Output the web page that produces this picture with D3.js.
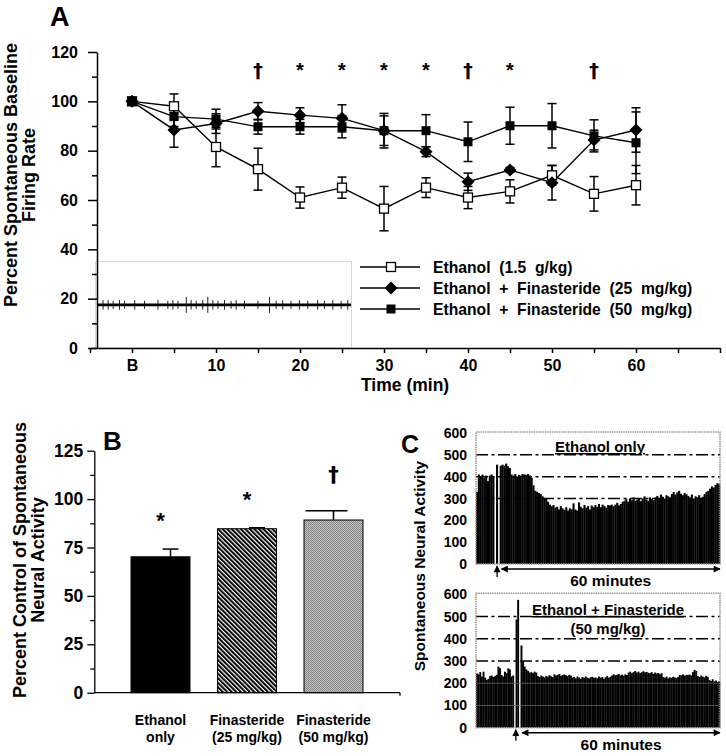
<!DOCTYPE html>
<html><head><meta charset="utf-8">
<script src="https://cdn.jsdelivr.net/npm/d3@7"></script>
<style>
body{margin:0;background:#fff}
text{font-family:"Liberation Sans",Arial,Helvetica,sans-serif;font-weight:bold;fill:#000}
text.dag{font-family:"DejaVu Sans","Liberation Sans",sans-serif}
</style></head><body>
<svg id="fig" width="726" height="756" xmlns="http://www.w3.org/2000/svg"></svg>
<script>
// ---------------- Panel A data ----------------
const timesA = [0,5,10,15,20,25,30,35,40,45,50,55,60];
const ethanol    = [100, 98, 81.5, 72.5, 61, 65, 56.5, 65, 61, 63.5, 70, 62.5, 66];
const ethanolErr = [0, 5, 8, 8.5, 4.3, 4.3, 9, 4, 4.5, 4.7, 4, 7, 8];
const fin25      = [100, 88.4, 91, 96, 94.4, 93.1, 88.1, 79.6, 67.4, 72.2, 67, 84.3, 88.4];
const fin25Err   = [0, 7, 4, 3.5, 3, 5.5, 7, 2, 3.5, 1, 7, 4, 9];
const fin50      = [100, 93.8, 92.8, 89.7, 89.7, 89.7, 88.1, 88.1, 83.6, 90.1, 90.1, 86, 83.2];
const fin50Err   = [0, 4, 4, 3, 3, 4.5, 6, 6.5, 8, 7.5, 9, 6.5, 12.5];
const seriesNamesA = ["Ethanol  (1.5  g/kg)", "Ethanol  +  Finasteride  (25  mg/kg)", "Ethanol  +  Finasteride  (50  mg/kg)"];
const sigTimesA = [15,20,25,30,35,40,45,55];
const sigSymA   = ["\u2020","*","*","*","*","\u2020","*","\u2020"];
const xTickValsA = [-5,0,5,10,15,20,25,30,35,40,45,50,55,60,65,70];
const xTickLabelsA = {0:"B",10:"10",20:"20",30:"30",40:"40",50:"50",60:"60"};
const yTickValsA = [0,10,20,30,40,50,60,70,80,90,100,110,120];
// inset spike trace (position along trace 0..1, relative amplitude)
const spikePos = [0.02,0.04,0.06,0.085,0.105,0.145,0.184,0.237,0.276,0.296,0.316,0.349,0.368,0.388,0.414,0.434,0.454,0.474,0.5,0.526,0.546,0.579,0.632,0.678,0.704,0.73,0.763,0.796,0.829,0.868,0.895,0.928,0.961,0.987];
const spikeAmp = [0.6,0.6,0.5,0.6,0.5,0.6,0.5,0.6,0.5,0.6,0.5,1,0.6,0.5,0.6,1,0.6,0.5,0.6,0.5,0.6,0.5,0.5,1,0.5,0.6,0.5,0.6,0.5,0.6,0.5,0.6,0.5,0.6];

// ---------------- Panel B data ----------------
const groupsB = [["Ethanol","only"],["Finasteride","(25 mg/kg)"],["Finasteride","(50 mg/kg)"]];
const valuesB = [70.2, 84.7, 89.2];
const errB    = [4, 0.5, 4.8];
const sigB    = ["*","*","\u2020"];
const yTickValsB = [0,12.5,25,37.5,50,62.5,75,87.5,100,112.5,125];

// ---------------- Panel C data ----------------
const binMin = 0.5;
const startTop = -7, endTop = 60, injTop = -1.2;
const histTop = [
330,410,400,410,395,405,380,405,410,400,
0,455,0,450,455,450,460,448,440,410,
405,412,400,408,405,412,410,408,412,405,
395,360,335,330,325,320,310,302,300,285,
272,265,270,258,262,250,265,255,248,260,
245,255,250,278,250,245,282,262,255,270,
258,265,250,268,260,270,262,275,260,272,
265,258,270,268,272,265,272,280,268,275,
285,290,298,285,300,292,305,290,295,302,
288,300,310,295,290,305,298,292,305,312,
300,318,308,300,315,310,305,320,330,318,
328,335,322,315,325,320,312,305,318,300,
310,305,315,302,308,320,330,335,345,355,
350,362,370,365];
const startBot = -14, endBot = 60, injBot = -1.9;
const histBot = [
244,240,250,230,252,225,215,220,232,235,
228,232,238,275,268,237,230,252,245,267,
262,230,235,0,487,575,0,370,300,275,
262,255,248,250,245,252,248,232,228,235,
230,226,233,229,236,231,228,240,235,238,
242,233,237,240,236,232,238,234,225,228,
222,230,226,220,228,224,230,225,222,227,
229,224,226,222,230,225,228,220,227,232,
225,229,235,240,236,238,242,235,239,234,
240,237,248,252,245,250,255,248,252,246,
250,254,249,251,247,245,250,242,248,244,
246,240,245,228,225,230,222,227,224,229,
226,223,228,237,235,240,234,238,236,239,
235,250,260,255,232,228,235,230,226,233,
229,215,210,218,208,212,205,210];
const refLevelsC = [300,400,500];
const yTickValsC = [0,100,200,300,400,500,600];

// =====================================================
const svg = d3.select("#fig");
svg.append("rect").attr("width",726).attr("height",756).attr("fill","#fff");
const defs = svg.append("defs");
const pat = defs.append("pattern").attr("id","stripes").attr("patternUnits","userSpaceOnUse")
  .attr("width",3.2).attr("height",10).attr("patternTransform","rotate(-45)");
pat.append("rect").attr("width",3.2).attr("height",10).attr("fill","#fff");
pat.append("rect").attr("width",2).attr("height",10).attr("fill","#000");
const pat2 = defs.append("pattern").attr("id","stipple").attr("patternUnits","userSpaceOnUse")
  .attr("width",2).attr("height",2);
pat2.append("rect").attr("width",2).attr("height",2).attr("fill","#c4c4c4");
pat2.append("rect").attr("width",1).attr("height",1).attr("fill","#808080");
pat2.append("rect").attr("x",1).attr("y",1).attr("width",1).attr("height",1).attr("fill","#8a8a8a");
defs.append("marker").attr("id","ah").attr("viewBox","0 0 10 10").attr("refX",9).attr("refY",5)
  .attr("markerWidth",9).attr("markerHeight",7).attr("orient","auto-start-reverse").attr("markerUnits","userSpaceOnUse")
  .append("path").attr("d","M0,0 L10,5 L0,10 Z").attr("fill","#000");

function label(g, x, y, str, size, anchor, rot) {
  const t = g.append("text").attr("x",x).attr("y",y).attr("font-size",size)
    .attr("text-anchor",anchor||"start").style("white-space","pre").text(str);
  if (str === "\u2020") t.attr("class","dag");
  if (rot) t.attr("transform",`rotate(${rot},${x},${y})`);
  return t;
}

// ================= PANEL A =================
const xA = d3.scaleLinear().domain([-5,70]).range([90,720]);
const yA = d3.scaleLinear().domain([0,120]).range([348,52]);
const gA = svg.append("g");
label(gA, 50, 26, "A", 27);

const insetX = d3.scaleLinear().domain([0,1]).range([98,351]);
const insetY = d3.scaleLinear().domain([-1,1]).range([yA(17.5)+8, yA(17.5)-8]);
gA.append("rect").attr("x",95.5).attr("y",yA(35)).attr("width",256).attr("height",yA(0)-yA(35))
  .attr("fill","none").attr("stroke","#aaa").attr("stroke-width",1).attr("stroke-dasharray","1,1");
gA.selectAll(".spk").data(spikePos).join("line")
  .attr("x1",d=>insetX(d)).attr("x2",d=>insetX(d))
  .attr("y1",(d,i)=>insetY(-spikeAmp[i])).attr("y2",(d,i)=>insetY(spikeAmp[i]))
  .attr("stroke","#222").attr("stroke-width",1);
gA.append("line").attr("x1",insetX(0)).attr("x2",insetX(1)).attr("y1",insetY(0)).attr("y2",insetY(0))
  .attr("stroke","#000").attr("stroke-width",2.8);

const axYA = gA.append("g").attr("transform","translate(97,0)")
  .call(d3.axisLeft(yA).tickValues(yTickValsA).tickSize(9).tickSizeOuter(0).tickPadding(10)
  .tickFormat(d=> d%20===0 ? d : ""));
axYA.selectAll(".tick line").attr("x2", d=> d%20===0 ? -9 : -5);
const axXA = gA.append("g").attr("transform","translate(0,348)")
  .call(d3.axisBottom(xA).tickValues(xTickValsA).tickSize(5).tickSizeOuter(0).tickPadding(7)
  .tickFormat(d=> xTickLabelsA[d] || ""));
[axYA, axXA].forEach(a=>{
  a.attr("font-family",null).attr("font-size",null);
  a.selectAll("path,line").attr("stroke","#000").attr("stroke-width",1.5);
  a.selectAll("text").attr("font-size",16).attr("fill","#000");
});
label(gA, 361, 391, "Time (min)", 17.5);
label(gA, 17, 175, "Percent Spontaneous Baseline", 18, "middle", -90);
label(gA, 35, 175, "Firing Rate", 18, "middle", -90);

const seriesA = [
  {vals: ethanol, err: ethanolErr, sym: "open"},
  {vals: fin25, err: fin25Err, sym: "diamond"},
  {vals: fin50, err: fin50Err, sym: "square"}
];
const lineGen = d3.line().x((d,i)=>xA(timesA[i])).y(d=>yA(d));
seriesA.forEach(s=>{
  gA.append("path").datum(s.vals).attr("d",lineGen).attr("fill","none").attr("stroke","#000").attr("stroke-width",1.4);
});
seriesA.forEach(s=>{
  const eb = gA.append("g").attr("stroke","#000").attr("stroke-width",1.5);
  s.vals.forEach((v,i)=>{
    if (!s.err[i]) return;
    const x = xA(timesA[i]);
    eb.append("line").attr("x1",x).attr("x2",x).attr("y1",yA(v-s.err[i])).attr("y2",yA(v+s.err[i]));
    [v-s.err[i], v+s.err[i]].forEach(c=> eb.append("line").attr("x1",x-4.5).attr("x2",x+4.5).attr("y1",yA(c)).attr("y2",yA(c)));
  });
});
function drawSym(g, kind, x, y) {
  if (kind==="open") g.append("rect").attr("x",x-4.5).attr("y",y-4.5).attr("width",9).attr("height",9)
      .attr("fill","#fff").attr("stroke","#000").attr("stroke-width",1.3);
  else if (kind==="square") g.append("rect").attr("x",x-4.5).attr("y",y-4.5).attr("width",9).attr("height",9).attr("fill","#000");
  else g.append("path").attr("d",`M${x},${y-6.5}L${x+6.5},${y}L${x},${y+6.5}L${x-6.5},${y}Z`).attr("fill","#000");
}
seriesA.forEach(s=>{
  const mg = gA.append("g");
  s.vals.forEach((v,i)=> drawSym(mg, s.sym, xA(timesA[i]), yA(v)));
});
sigTimesA.forEach((t,i)=>{
  label(gA, xA(t), yA(110), sigSymA[i], sigSymA[i]==="*" ? 20 : 19, "middle");
});
seriesA.forEach((s,i)=>{
  const yy = 267 + i*21;
  gA.append("line").attr("x1",360).attr("x2",420).attr("y1",yy).attr("y2",yy).attr("stroke","#000").attr("stroke-width",1.4);
  drawSym(gA, s.sym, 391, yy);
  label(gA, 433, yy+5.5, seriesNamesA[i], 15.7);
});

// ================= PANEL B =================
const gB = svg.append("g");
const yB = d3.scaleLinear().domain([0,125]).range([692.7,450.7]);
const xB = d3.scalePoint().domain(d3.range(groupsB.length)).range([160.5,333.5]);
const fillsB = ["#000","url(#stripes)","url(#stipple)"];
const errOffB = [10, 10, 0];
const capB = [[-8,8],[-8,8],[-28,14]];
label(gB, 103, 450, "B", 26);
valuesB.forEach((v,i)=>{
  const cx = xB(i);
  gB.append("rect").attr("x",cx-29.5).attr("y",yB(v)).attr("width",59).attr("height",yB(0)-yB(v))
    .attr("fill",fillsB[i]).attr("stroke","#000").attr("stroke-width",1);
  const ex = cx + errOffB[i];
  gB.append("line").attr("x1",ex).attr("x2",ex).attr("y1",yB(v)).attr("y2",yB(v+errB[i])).attr("stroke","#000").attr("stroke-width",1.5);
  gB.append("line").attr("x1",ex+capB[i][0]).attr("x2",ex+capB[i][1]).attr("y1",yB(v+errB[i])).attr("y2",yB(v+errB[i])).attr("stroke","#000").attr("stroke-width",1.5);
  const off = sigB[i]==="*" ? 21 : 29;
  label(gB, cx, yB(v+errB[i]) - off, sigB[i], sigB[i]==="*" ? 22 : 21, "middle");
  label(gB, cx, 725, groupsB[i][0], 14, "middle");
  label(gB, cx, 742, groupsB[i][1], 14, "middle");
});
const axYB = gB.append("g").attr("transform","translate(94.3,0)")
  .call(d3.axisLeft(yB).tickValues(yTickValsB).tickSize(7).tickSizeOuter(0).tickPadding(4)
  .tickFormat(d=> d%25===0 ? d : ""));
axYB.selectAll(".tick line").attr("x2", d=> d%25===0 ? -7 : -4);
axYB.attr("font-family",null).attr("font-size",null);
axYB.selectAll("path,line").attr("stroke","#000").attr("stroke-width",1.3);
axYB.selectAll("text").attr("font-size",17.5).attr("fill","#000");
gB.append("line").attr("x1",94.3).attr("x2",400).attr("y1",yB(0)).attr("y2",yB(0)).attr("stroke","#000").attr("stroke-width",1.3);
gB.append("line").attr("x1",400).attr("x2",400).attr("y1",yB(0)).attr("y2",yB(0)+3).attr("stroke","#000").attr("stroke-width",1.3);
label(gB, 25.5, 560, "Percent Control of Spontaneous", 18, "middle", -90);
label(gB, 44, 560, "Neural Activity", 18, "middle", -90);

// ================= PANEL C =================
const gC = svg.append("g");
label(gC, 401, 453, "C", 25);
label(gC, 424.5, 566, "Spontaneous Neural Activity", 15.5, "middle", -90);

function histPanel(vals, start, end, inj, yTop, yBot, title, gridLines, textPos) {
  const x = d3.scaleLinear().domain([start,end]).range([476,720]);
  const y = d3.scaleLinear().domain([0,600]).range([yBot,yTop]);
  const g = gC.append("g");
  refLevelsC.forEach(r=>{
    g.append("line").attr("x1",476).attr("x2",720).attr("y1",y(r)).attr("y2",y(r))
      .attr("stroke","#000").attr("stroke-width",1.5).attr("stroke-dasharray","12,3.5,3,3.5");
  });
  g.selectAll(".bin").data(vals).join("rect")
    .attr("x",(d,i)=>x(start+i*binMin)).attr("width",(x(start+binMin)-x(start))+0.25)
    .attr("y",d=>y(d)).attr("height",d=>y(0)-y(d)).attr("fill","#000");
  gridLines.forEach(r=>{
    g.append("line").attr("x1",477).attr("x2",719).attr("y1",y(r)).attr("y2",y(r)).attr("stroke","#666").attr("stroke-width",0.8);
  });
  g.append("rect").attr("x",476).attr("y",y(600)-1).attr("width",244).attr("height",y(0)-y(600)+1)
    .attr("fill","none").attr("stroke","#999").attr("stroke-width",1.6).attr("stroke-dasharray","1.5,0.8");
  yTickValsC.forEach(v=> label(g, 467, y(v)+5, String(v), 14, "end"));
  title.forEach((t,i)=>{
    const tt = label(g, textPos[0], textPos[1]+i*19, t, 15, "middle");
    if (i===0) tt.style("text-decoration","underline");
  });
  const ay = y(0)+5;
  g.append("line").attr("x1",x(0)).attr("x2",x(60)).attr("y1",ay).attr("y2",ay).attr("stroke","#000").attr("stroke-width",1.5)
    .attr("marker-start","url(#ah)").attr("marker-end","url(#ah)");
  g.append("line").attr("x1",x(inj)).attr("x2",x(inj)).attr("y1",ay+8).attr("y2",ay-3).attr("stroke","#000").attr("stroke-width",1.3)
    .attr("marker-end","url(#ah)");
  label(g, x(30), ay+17, "60 minutes", 15.5, "middle");
}
histPanel(histTop, startTop, endTop, injTop, 433, 564, ["Ethanol only"], [], [600, 452]);
histPanel(histBot, startBot, endBot, injBot, 594.3, 727.7, ["Ethanol + Finasteride","(50 mg/kg)"], [100,200], [608, 615]);
</script>
</body></html>
